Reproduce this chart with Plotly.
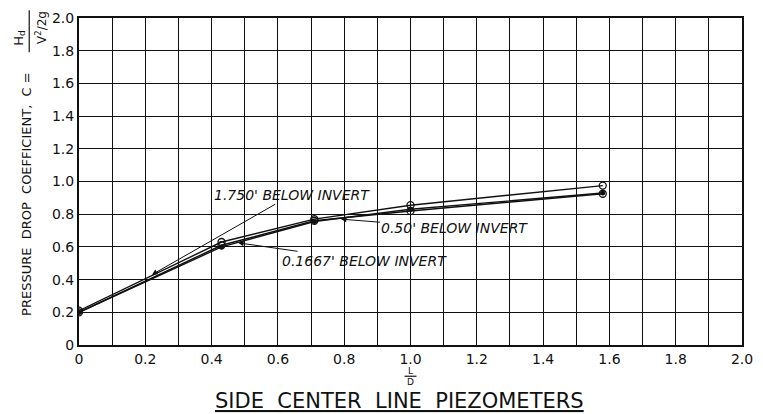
import plotly.graph_objects as go

# L/D positions of the side center line piezometers
l_over_d = [0, 0.43, 0.71, 1.0, 1.58]

# Pressure drop coefficient C = Hd / (V^2/2g) for each piezometer depth
c_1750 = [0.21, 0.63, 0.77, 0.855, 0.975]
c_050 = [0.20, 0.61, 0.76, 0.82, 0.925]
c_01667 = [0.20, 0.60, 0.755, 0.83, 0.93]

series_names = ["1.750' BELOW INVERT", "0.50' BELOW INVERT", "0.1667' BELOW INVERT"]

x_ticks = [0, 0.2, 0.4, 0.6, 0.8, 1.0, 1.2, 1.4, 1.6, 1.8, 2.0]
x_tick_text = ["0", "0.2", "0.4", "0.6", "0.8", "1.0", "1.2", "1.4", "1.6", "1.8", "2.0"]
y_ticks = [0, 0.2, 0.4, 0.6, 0.8, 1.0, 1.2, 1.4, 1.6, 1.8, 2.0]
y_tick_text = ["0", "0.2", "0.4", "0.6", "0.8", "1.0", "1.2", "1.4", "1.6", "1.8", "2.0"]

W, H = 763, 414
L, R, T, B = 79, 18, 10, 69
PW, PH = W - L - R, H - T - B

FONT = "DejaVu Sans"
INK = "#111111"


def px(xp):
    return (xp - L) / PW


def py(yp):
    return (H - B - yp) / PH


def note(x, y, text, size, angle=0):
    fig.add_annotation(
        x=px(x), y=py(y), xref="paper", yref="paper", text=text,
        textangle=angle, showarrow=False, xanchor="center", yanchor="middle",
        font=dict(family=FONT, size=size, color=INK),
    )


fig = go.Figure()

marker_styles = [
    dict(symbol="circle-open", size=7, color=INK, line=dict(width=1.3, color=INK)),
    dict(symbol="circle-open", size=7, color=INK, line=dict(width=1.3, color=INK)),
    dict(symbol="circle", size=5, color=INK),
]

for name, vals, mk in zip(series_names, [c_1750, c_050, c_01667], marker_styles):
    fig.add_trace(go.Scatter(
        x=l_over_d, y=vals, name=name, mode="lines+markers",
        line=dict(color=INK, width=1.4), marker=mk, showlegend=False,
    ))

# Labelled arrows pointing at each curve
callouts = [
    (series_names[0], 0.22, 0.43, 140, -80),
    (series_names[1], 0.79, 0.77, 114, 9),
    (series_names[2], 0.48, 0.625, 126, 18),
]
for text, ax_x, ax_y, dx, dy in callouts:
    fig.add_annotation(
        x=ax_x, y=ax_y, xref="x", yref="y", text="<i>" + text + "</i>",
        showarrow=True, ax=dx, ay=dy, arrowhead=2, arrowsize=1.1,
        arrowwidth=1, arrowcolor=INK,
        font=dict(family=FONT, size=14, color=INK),
    )

# Vertical axis title with the coefficient definition
note(26, 190, "PRESSURE  DROP  COEFFICIENT,  C =", 13, -90)
note(19, 30, "H<sub>d</sub>", 13, -90)
note(41, 20, "V<sup>2</sup>/2g", 12, -90)
fig.add_shape(type="line", xref="paper", yref="paper",
              x0=px(29), x1=px(29), y0=py(45), y1=py(2),
              line=dict(color=INK, width=1.2))

# L/D fraction under the horizontal axis
note(412, 371.5, "L", 9)
fig.add_shape(type="line", xref="paper", yref="paper",
              x0=px(406), x1=px(418), y0=py(377), y1=py(377),
              line=dict(color=INK, width=1.2))
note(412, 382.5, "D", 9)

# Chart caption
note(401, 402, "<u>SIDE  CENTER  LINE  PIEZOMETERS</u>", 21)

fig.update_xaxes(
    range=[0, 2.0], tickvals=x_ticks, ticktext=x_tick_text,
    showgrid=True, gridcolor=INK, gridwidth=1.2,
    minor=dict(dtick=0.1, showgrid=True, gridcolor=INK, gridwidth=1.2),
    showline=True, linecolor=INK, linewidth=2, mirror=True,
    zeroline=False, ticks="", tickfont=dict(family=FONT, size=14, color=INK),
)
fig.update_yaxes(
    range=[0, 2.0], tickvals=y_ticks, ticktext=y_tick_text,
    showgrid=True, gridcolor=INK, gridwidth=1.2,
    showline=True, linecolor=INK, linewidth=2, mirror=True,
    zeroline=False, ticks="", tickfont=dict(family=FONT, size=14, color=INK),
)

fig.update_layout(
    width=W, height=H,
    margin=dict(l=L, r=R, t=T, b=B),
    plot_bgcolor="white", paper_bgcolor="white",
)

fig.write_html("out.html")
